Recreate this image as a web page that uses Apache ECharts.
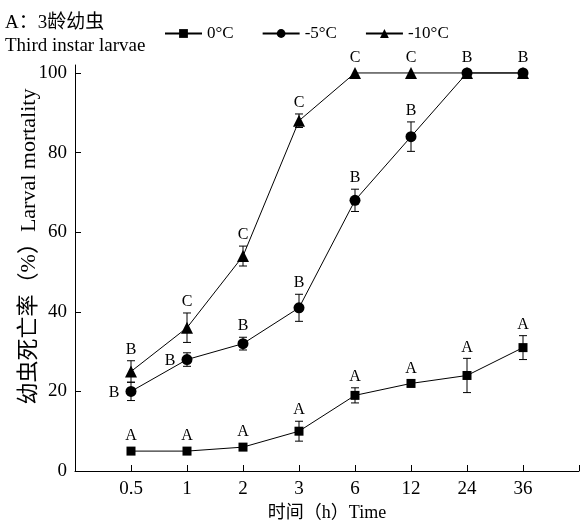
<!DOCTYPE html>
<html>
<head>
<meta charset="utf-8">
<script src="https://cdn.jsdelivr.net/npm/echarts@6/dist/echarts.min.js"></script>
<style>
  html, body { margin: 0; padding: 0; background: #fff; }
  #chart { width: 582px; height: 527px; }
</style>
</head>
<body>
<div id="chart"></div>
<script>
// Exposure times (h), one slot per category on the x axis
const times = ['0.5', '1', '2', '3', '6', '12', '24', '36'];

// Larval mortality (%) and standard errors for each temperature
const mort0 = [5, 5, 6, 10, 19, 22, 24, 31];
const err0 = [0, 0, 0, 2.5, 1.9, 0.8, 4.3, 3];
const mort5 = [20, 28, 32, 41, 68, 84, 100, 100];
const err5 = [2.3, 1.7, 1.6, 3.4, 2.8, 3.7, 0, 0];
const mort10 = [25, 36, 54, 88, 100, 100, 100, 100];
const err10 = [2.7, 3.7, 2.5, 1.7, 0, 0, 0, 0];

// Significance letters
const letters0 = ['A', 'A', 'A', 'A', 'A', 'A', 'A', 'A'];
const letters5 = ['B', 'B', 'B', 'B', 'B', 'B', 'B', 'B'];
const letters10 = ['B', 'C', 'C', 'C', 'C', 'C', '', ''];

// Y-axis ticks
const yTicks = [0, 20, 40, 60, 80, 100];

const names = ['0°C', '-5°C', '-10°C'];

const SERIF = '"Liberation Serif", "Times New Roman", "Noto Sans CJK SC", serif';

const chart = echarts.init(document.getElementById('chart'), null, { renderer: 'canvas' });

function toPoints(vals, errs) {
  return vals.map((v, i) => [i + 1, v, errs[i]]);
}

// Error bars plus significance letters, drawn through the axis coordinates
function makeErrorRenderer(letters, leftSide) {
  return function (params, api) {
    const i = params.dataIndex;
    const x = api.value(0), v = api.value(1), e = api.value(2);
    const c = api.coord([x, v]);
    const hi = api.coord([x, v + e]);
    const lo = api.coord([x, v - e]);
    const cap = 4;
    const children = [];
    const lineStyle = { stroke: '#000', lineWidth: 1 };
    if (e > 0) {
      children.push({ type: 'line', shape: { x1: c[0], y1: hi[1], x2: c[0], y2: lo[1] }, style: lineStyle });
      children.push({ type: 'line', shape: { x1: c[0] - cap, y1: hi[1], x2: c[0] + cap, y2: hi[1] }, style: lineStyle });
      children.push({ type: 'line', shape: { x1: c[0] - cap, y1: lo[1], x2: c[0] + cap, y2: lo[1] }, style: lineStyle });
    }
    const txt = letters[i];
    if (txt) {
      let tx, ty;
      if (leftSide && leftSide.indexOf(i) >= 0) {
        tx = c[0] - 17;
        ty = c[1] + 1;
      } else {
        tx = c[0];
        ty = Math.min(hi[1], c[1] - 4) - 11;
      }
      children.push({
        type: 'text',
        style: {
          text: txt, x: tx, y: ty, fill: '#000',
          font: '16px ' + SERIF, align: 'center', verticalAlign: 'middle'
        }
      });
    }
    return { type: 'group', children: children };
  };
}

function lineSeries(name, vals, symbol, size, z) {
  return {
    name: name,
    type: 'line',
    data: vals.map((v, i) => [i + 1, v]),
    symbol: symbol,
    symbolSize: size,
    showAllSymbol: true,
    z: z,
    itemStyle: { color: '#000' },
    lineStyle: { color: '#000', width: 1 },
    emphasis: { disabled: true }
  };
}

function errSeries(id, vals, errs, letters, leftSide) {
  return {
    name: id,
    type: 'custom',
    data: toPoints(vals, errs),
    renderItem: makeErrorRenderer(letters, leftSide),
    z: 4,
    silent: true
  };
}

const option = {
  animation: false,
  backgroundColor: '#fff',
  title: {
    text: 'A：3龄幼虫\nThird instar larvae',
    left: 5,
    top: 12,
    padding: 0,
    textStyle: { fontFamily: SERIF, fontSize: 19, fontWeight: 'normal', color: '#000', lineHeight: 23 }
  },
  legend: {
    data: names,
    left: 159,
    top: 20,
    itemWidth: 37,
    itemHeight: 11,
    itemGap: 28,
    selectedMode: false,
    textStyle: { fontFamily: SERIF, fontSize: 17, color: '#000' }
  },
  grid: { left: 75, right: 1, top: 65, bottom: 54 },
  xAxis: {
    type: 'value',
    min: 0,
    max: 9,
    interval: 1,
    name: '时间（h）Time',
    nameLocation: 'middle',
    nameGap: 33,
    nameMoveOverlap: false,
    nameTextStyle: { fontFamily: SERIF, fontSize: 18, color: '#000' },
    axisLine: { lineStyle: { color: '#000', width: 1 } },
    axisTick: { inside: true, length: 6, lineStyle: { color: '#000' } },
    axisLabel: {
      fontFamily: SERIF, fontSize: 19, color: '#000', margin: 9,
      formatter: v => times[v - 1] || ''
    },
    splitLine: { show: false }
  },
  yAxis: {
    type: 'value',
    min: 0,
    max: 102,
    interval: 20,
    name: '幼虫死亡率（%）Larval mortality',
    nameLocation: 'middle',
    nameGap: 35,
    nameMoveOverlap: false,
    nameTextStyle: { fontFamily: SERIF, fontSize: 22, color: '#000', padding: [0, 0, 0, 43] },
    axisLine: { show: true, lineStyle: { color: '#000', width: 1 } },
    axisTick: { inside: true, length: 6, customValues: yTicks, lineStyle: { color: '#000' } },
    axisLabel: { fontFamily: SERIF, fontSize: 19, color: '#000', margin: 8, customValues: yTicks },
    splitLine: { show: false }
  },
  series: [
    lineSeries(names[0], mort0, 'rect', 9, 2),
    lineSeries(names[2], mort10, 'triangle', 12, 2),
    lineSeries(names[1], mort5, 'circle', 11, 3),
    errSeries('err0', mort0, err0, letters0, null),
    errSeries('err5', mort5, err5, letters5, [0, 1]),
    errSeries('err10', mort10, err10, letters10, null)
  ]
};

chart.setOption(option);
</script>
</body>
</html>
